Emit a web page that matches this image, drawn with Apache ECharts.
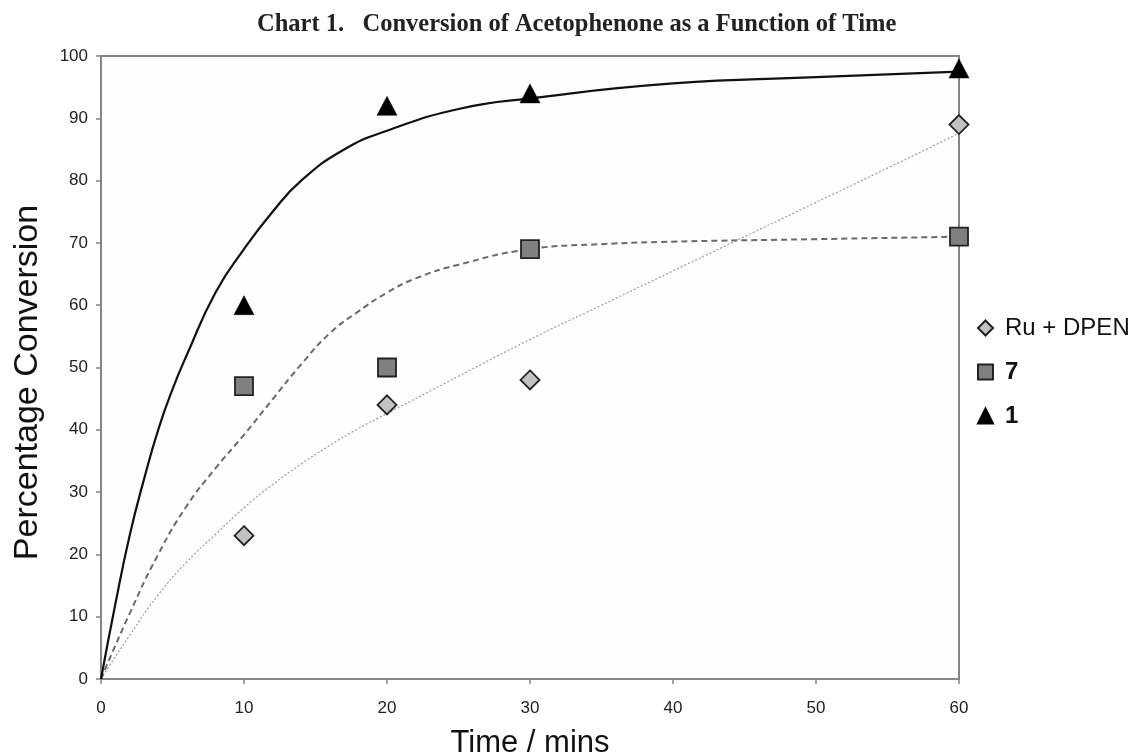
<!DOCTYPE html>
<html>
<head>
<meta charset="utf-8">
<script src="https://cdn.jsdelivr.net/npm/echarts@6/dist/echarts.min.js"></script>
<style>
html,body{margin:0;padding:0;background:#fff;}
#chart{width:1138px;height:753px;}
</style>
</head>
<body>
<div id="chart"></div>
<script>
// Measured points
const timeMin = [10, 20, 30, 60];
const ruDpen = [23, 44, 48, 89];
const cat7 = [47, 50, 69, 71];
const cat1 = [60, 92, 94, 98];

// Trend curves
const trend1X = [0, 1, 2, 3, 4, 5, 6, 8, 10, 12, 14, 17, 20, 25, 30, 40, 50, 60];
const trend1Y = [0, 12, 23, 32, 40, 46.5, 52, 62, 69, 75, 80, 85, 88, 91.5, 93.2, 95.6, 96.6, 97.5];
const trend7X = [0, 2, 4, 6, 8, 10, 12, 14, 16, 18, 20, 22, 25, 30, 35, 40, 50, 60];
const trend7Y = [0, 10.5, 20, 27.8, 33.8, 39.2, 44.9, 50.5, 55.5, 59, 62, 64.3, 66.5, 69, 69.8, 70.2, 70.6, 71];
const trendRuX = [0, 2, 4, 6, 8, 10, 12, 14, 16, 18, 20, 25, 30, 35, 40, 45, 50, 55, 60];
const trendRuY = [0, 7, 13.5, 18.8, 23.2, 27.5, 31.2, 34.5, 37.5, 40.2, 42.6, 48.6, 54.5, 60, 65.5, 71, 76.5, 82, 87.6];

const xTicks = [0, 10, 20, 30, 40, 50, 60];
const yTicks = [0, 10, 20, 30, 40, 50, 60, 70, 80, 90, 100];

const seriesNames = ['Ru + DPEN', '7', '1'];

function pairs(xs, ys) { return xs.map((x, i) => [x, ys[i]]); }

const chart = echarts.init(document.getElementById('chart'));
const axisColor = '#858585';
const sans = '"Liberation Sans", Arial, sans-serif';
chart.setOption({
  backgroundColor: '#ffffff',
  animation: false,
  title: {
    text: 'Chart 1.\u00a0\u00a0\u00a0Conversion of Acetophenone as a Function of Time',
    left: 252, top: 7,
    textStyle: { fontFamily: '"Liberation Serif", "Times New Roman", serif', fontWeight: 'bold', fontSize: 24.5, color: '#222' }
  },
  grid: {
    left: 101, right: 179, top: 56, bottom: 74,
    outerBoundsMode: 'none', containLabel: false,
    show: true, borderColor: axisColor, borderWidth: 2, backgroundColor: '#fefefe'
  },
  legend: {
    orient: 'vertical', left: 972, top: 311,
    itemWidth: 15, itemHeight: 15, itemGap: 20,
    data: [
      { name: seriesNames[0] },
      { name: seriesNames[1], textStyle: { fontWeight: 'bold' } },
      { name: seriesNames[2], textStyle: { fontWeight: 'bold' } }
    ],
    textStyle: { fontFamily: sans, fontSize: 24, lineHeight: 24, color: '#111', padding: [0, 0, 0, 7] }
  },
  xAxis: {
    type: 'value', min: xTicks[0], max: xTicks[xTicks.length - 1], interval: 10,
    name: 'Time / mins', nameLocation: 'middle', nameGap: 49,
    nameTextStyle: { fontFamily: sans, fontSize: 31, color: '#111' },
    axisLine: { show: true, lineStyle: { color: axisColor, width: 2 } },
    axisTick: { show: true, length: 5, lineStyle: { color: axisColor, width: 1.5 } },
    axisLabel: { margin: 21, fontFamily: sans, fontSize: 17, color: '#222' },
    splitLine: { show: false }
  },
  yAxis: {
    type: 'value', min: yTicks[0], max: yTicks[yTicks.length - 1], interval: 10,
    name: 'Percentage Conversion', nameLocation: 'middle', nameGap: 56,
    nameTextStyle: { fontFamily: sans, fontSize: 34, color: '#111', padding: [0, 30, 0, 0] },
    axisLine: { show: true, lineStyle: { color: axisColor, width: 2 } },
    axisTick: { show: true, length: 5, lineStyle: { color: axisColor, width: 1.5 } },
    axisLabel: { margin: 13, fontFamily: sans, fontSize: 17, color: '#222' },
    splitLine: { show: false }
  },
  series: [
    {
      name: 'trendRu', type: 'line', smooth: true, showSymbol: false, silent: true, z: 2,
      data: pairs(trendRuX, trendRuY),
      lineStyle: { color: '#9a9a9a', width: 1.2, type: [2, 2] }
    },
    {
      name: 'trend7', type: 'line', smooth: true, showSymbol: false, silent: true, z: 2,
      data: pairs(trend7X, trend7Y),
      lineStyle: { color: '#6a6a6a', width: 2, type: [6, 4] }
    },
    {
      name: 'trend1', type: 'line', smooth: true, showSymbol: false, silent: true, z: 2,
      data: pairs(trend1X, trend1Y),
      lineStyle: { color: '#111', width: 2.2 }
    },
    {
      name: seriesNames[0], type: 'scatter', symbol: 'diamond', symbolSize: [19, 19], z: 5,
      data: pairs(timeMin, ruDpen),
      itemStyle: { color: '#c2c2c2', borderColor: '#222', borderWidth: 1.8, opacity: 1 }
    },
    {
      name: seriesNames[1], type: 'scatter', symbol: 'rect', symbolSize: [18, 18], z: 5,
      data: pairs(timeMin, cat7),
      itemStyle: { color: '#808080', borderColor: '#222', borderWidth: 1.8, opacity: 1 }
    },
    {
      name: seriesNames[2], type: 'scatter', symbol: 'triangle', symbolSize: [20, 19], z: 5,
      data: pairs(timeMin, cat1),
      itemStyle: { color: '#000', borderColor: '#000', borderWidth: 0.5, opacity: 1 }
    }
  ]
});
</script>
</body>
</html>
